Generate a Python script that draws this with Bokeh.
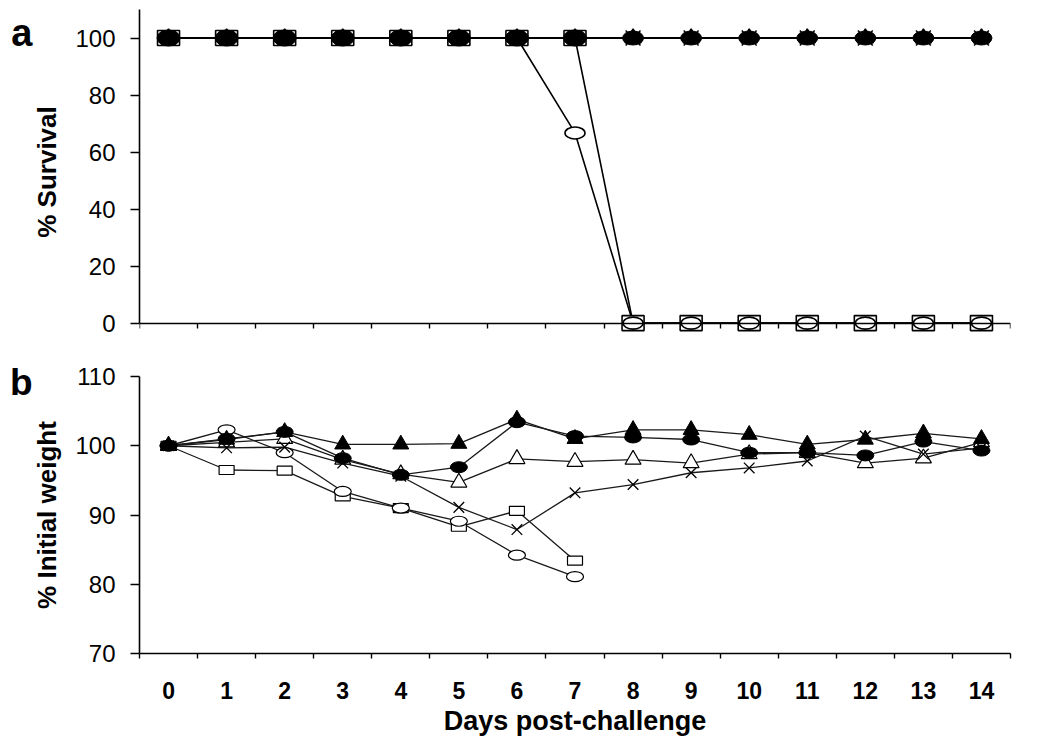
from bokeh.plotting import figure
from bokeh.layouts import column
from bokeh.models import FixedTicker, LinearAxis
from bokeh.embed import file_html
from bokeh.resources import INLINE

# ---------------- data ----------------
days = [0, 1, 2, 3, 4, 5, 6, 7, 8, 9, 10, 11, 12, 13, 14]
days_short = [0, 1, 2, 3, 4, 5, 6, 7]
day_labels = ["0", "1", "2", "3", "4", "5", "6", "7", "8", "9", "10", "11", "12", "13", "14"]

# panel a: % survival
surv_tri_filled = [100, 100, 100, 100, 100, 100, 100, 100, 100, 100, 100, 100, 100, 100, 100]
surv_circ_filled = [100, 100, 100, 100, 100, 100, 100, 100, 100, 100, 100, 100, 100, 100, 100]
surv_tri_open = [100, 100, 100, 100, 100, 100, 100, 100, 100, 100, 100, 100, 100, 100, 100]
surv_cross = [100, 100, 100, 100, 100, 100, 100, 100, 100, 100, 100, 100, 100, 100, 100]
surv_square = [100, 100, 100, 100, 100, 100, 100, 100, 0, 0, 0, 0, 0, 0, 0]
surv_circle = [100, 100, 100, 100, 100, 100, 100, 66.7, 0, 0, 0, 0, 0, 0, 0]

# panel b: % initial weight
wt_tri_filled = [100, 100.9, 102.0, 100.2, 100.2, 100.3, 103.8, 101.0, 102.3, 102.3, 101.6, 100.2, 100.9, 101.8, 101.0]
wt_circ_filled = [100, 101.0, 102.0, 98.2, 95.8, 96.9, 103.4, 101.4, 101.2, 100.9, 99.0, 99.0, 98.6, 100.6, 99.3]
wt_tri_open = [100, 100.5, 101.0, 98.0, 95.9, 94.7, 98.1, 97.7, 98.0, 97.5, 98.8, 99.0, 97.5, 98.2, 100.5]
wt_cross = [100, 99.7, 99.8, 97.5, 95.6, 91.1, 87.9, 93.2, 94.4, 96.1, 96.8, 97.8, 101.4, 98.8, 99.7]
wt_square = [100, 96.5, 96.4, 92.7, 91.0, 88.3, 90.6, 83.4]
wt_circle = [100, 102.3, 99.0, 93.4, 91.0, 89.1, 84.2, 81.1]

panel_letters = ["a", "b"]

bounds = [d - 0.5 for d in days] + [days[-1] + 0.5]

FONT = "Liberation Sans"


def style_y(p, ticks, title, bounds_y):
    ax = p.yaxis[0]
    ax.ticker = FixedTicker(ticks=ticks)
    ax.bounds = bounds_y
    ax.major_tick_out = 9
    ax.major_tick_in = 0
    ax.minor_tick_line_color = None
    ax.axis_line_width = 1.6
    ax.major_tick_line_width = 1.4
    ax.axis_line_color = "black"
    ax.major_tick_line_color = "black"
    ax.major_label_text_font = FONT
    ax.major_label_text_font_size = "24px"
    ax.major_label_text_color = "black"
    ax.major_label_standoff = 15
    ax.axis_label = title
    ax.axis_label_text_font = FONT
    ax.axis_label_text_font_style = "bold"
    ax.axis_label_text_font_size = "26px"
    ax.axis_label_text_color = "black"
    ax.axis_label_standoff = 10


def style_x(p):
    ax = p.xaxis[0]
    ax.axis_line_width = 1.6
    ax.axis_line_color = "black"
    ax.major_tick_line_color = None
    ax.major_tick_out = 0
    ax.major_tick_in = 0
    ax.minor_tick_line_color = "black"
    ax.minor_tick_line_width = 1.4
    ax.minor_tick_out = 5
    ax.minor_tick_in = 0


def letter_axis(p, ypos, letter, size):
    # panel letter drawn as a horizontal tick label of a bare axis, left of the y axis
    ax = LinearAxis(ticker=FixedTicker(ticks=[ypos]), major_label_overrides={ypos: letter},
                    axis_line_color=None, major_tick_line_color=None, minor_tick_line_color=None,
                    major_tick_out=0, major_tick_in=0, major_label_standoff=-3,
                    major_label_text_font=FONT, major_label_text_font_style="bold",
                    major_label_text_font_size=size, major_label_text_color="black")
    p.add_layout(ax, "left")


def base_fig(width, height, yr, bl, br, bt, bb):
    p = figure(width=width, height=height, x_range=(-0.5, 14.5), y_range=yr,
               output_backend="svg", toolbar_location=None,
               min_border_left=bl, min_border_right=br, min_border_top=bt, min_border_bottom=bb)
    p.outline_line_color = None
    p.xgrid.grid_line_color = None
    p.ygrid.grid_line_color = None
    p.background_fill_color = "white"
    p.border_fill_color = "white"
    return p


# ---------------- panel a ----------------
pa = base_fig(1026, 360, (-4, 110), 139, 16, 9, 26)
style_y(pa, [0, 20, 40, 60, 80, 100], "% Survival", (0, 110))
style_x(pa)
pa.xaxis[0].ticker = FixedTicker(ticks=[], minor_ticks=bounds)
pa.xaxis[0].fixed_location = 0
letter_axis(pa, 101.6, panel_letters[0], "38px")

LW_A = 1.6
for ys in [surv_tri_filled, surv_circ_filled, surv_tri_open, surv_cross, surv_square, surv_circle]:
    pa.line(days, ys, line_color="black", line_width=LW_A)

pa.rect(days, surv_square, width=22, height=15, width_units="screen", height_units="screen",
        fill_color="white", line_color="black", line_width=1.6)
pa.ellipse(days, surv_circle, width=20, height=12, width_units="screen", height_units="screen",
           fill_color="white", line_color="black", line_width=1.6)
pa.scatter(days, surv_tri_open, marker="triangle", size=16, fill_color="white", line_color="black", line_width=1.5)
pa.scatter(days, surv_cross, marker="x", size=21, line_color="black", line_width=1.5)
pa.ellipse(days[:8], surv_circ_filled[:8], width=23, height=16, width_units="screen", height_units="screen",
           fill_color="black", line_color="black")
pa.ellipse(days[8:], surv_circ_filled[8:], width=21, height=14, width_units="screen", height_units="screen",
           fill_color="black", line_color="black")
pa.scatter(days, surv_tri_filled, marker="triangle", size=15, fill_color="black", line_color="black")

# ---------------- panel b ----------------
pb = base_fig(1026, 387, (70, 110), 139, 16, 16, 94)
style_y(pb, [70, 80, 90, 100, 110], "% Initial weight", (70, 110))
style_x(pb)
pb.xaxis[0].ticker = FixedTicker(ticks=days, minor_ticks=bounds)
pb.xaxis[0].major_label_overrides = {d: lab for d, lab in zip(days, day_labels)}
pb.xaxis[0].major_label_text_font = FONT
pb.xaxis[0].major_label_text_font_style = "bold"
pb.xaxis[0].major_label_text_font_size = "23px"
pb.xaxis[0].major_label_text_color = "black"
pb.xaxis[0].major_label_standoff = 23
pb.xaxis[0].axis_label = "Days post-challenge"
pb.xaxis[0].axis_label_text_font = FONT
pb.xaxis[0].axis_label_text_font_style = "bold"
pb.xaxis[0].axis_label_text_font_size = "27px"
pb.xaxis[0].axis_label_text_color = "black"
pb.xaxis[0].axis_label_standoff = 4
letter_axis(pb, 109.5, panel_letters[1], "37px")

LW_B = 1.3
LC = "#1a1a1a"
pb.line(days, wt_tri_filled, line_color=LC, line_width=LW_B)
pb.line(days, wt_circ_filled, line_color=LC, line_width=LW_B)
pb.line(days, wt_tri_open, line_color=LC, line_width=LW_B)
pb.line(days, wt_cross, line_color=LC, line_width=LW_B)
pb.line(days_short, wt_square, line_color=LC, line_width=LW_B)
pb.line(days_short, wt_circle, line_color=LC, line_width=LW_B)

pb.rect(days_short, wt_square, width=15, height=9, width_units="screen", height_units="screen",
        fill_color="white", line_color="black", line_width=1.2)
pb.ellipse(days_short, wt_circle, width=17, height=10, width_units="screen", height_units="screen",
           fill_color="white", line_color="black", line_width=1.2)
pb.scatter(days, wt_tri_open, marker="triangle", size=16, fill_color="white", line_color="black", line_width=1.2)
pb.scatter(days, wt_cross, marker="x", size=15, line_color="black", line_width=1.3)
pb.ellipse(days, wt_circ_filled, width=17, height=11, width_units="screen", height_units="screen",
           fill_color="black", line_color="black")
pb.scatter(days, wt_tri_filled, marker="triangle", size=16, fill_color="black", line_color="black")

layout = column(pa, pb, spacing=0)
open("out.html", "w").write(file_html(layout, INLINE))
